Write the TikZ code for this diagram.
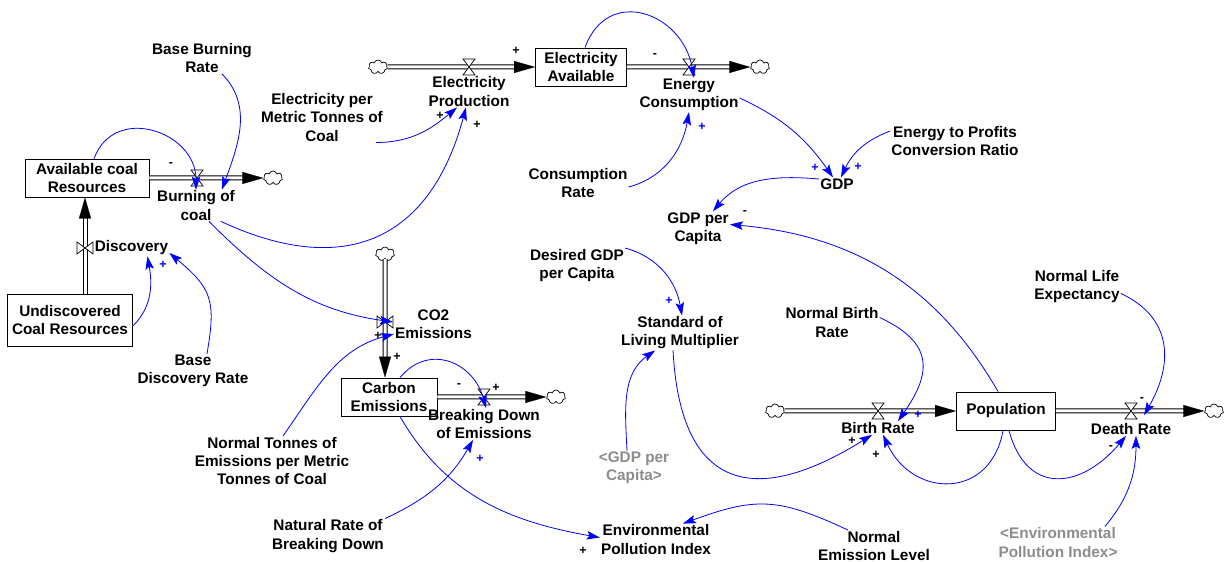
\documentclass[tikz,border=0pt]{standalone}
\usepackage{fontspec}
\setmainfont{Liberation Sans}
\usetikzlibrary{arrows.meta,shapes.symbols,calc}
\begin{document}
\begin{tikzpicture}[x=1bp,y=1bp,
  every node/.style={font=\bfseries\fontsize{15.4}{18.2}\selectfont, align=center, inner sep=1bp},
  stock/.style={draw=black, line width=0.9bp, fill=white, inner sep=0},
  lnk/.style={draw=blue, line width=0.8bp, -{Stealth[length=13bp,width=8.5bp,inset=2.5bp]}},
  pipe/.style={draw=black, double=white, double distance=3bp, line width=1bp, shorten >=12bp},
  ftip/.style={draw=white, line width=0.2bp, -{Triangle[length=21bp,width=12bp,black]}},
  hvalve/.style={minimum width=12bp, minimum height=16bp, inner sep=0, outer sep=0},
  vvalve/.style={minimum width=16bp, minimum height=12bp, inner sep=0, outer sep=0},
  valve/.style={draw=black, fill=white, line width=0.7bp},
  cloudn/.style={cloud, cloud puffs=7, aspect=1.35, draw=black, fill=white, line width=0.7bp, minimum width=19bp, minimum height=14bp, inner sep=0},
  pol/.style={font=\bfseries\fontsize{12.5}{12.5}\selectfont, inner sep=0},
  polb/.style={pol, text=blue},
  shadowv/.style={text=black!45}]
\useasboundingbox (0,0) rectangle (1227,-562);
\fill[white] (0,0) rectangle (1227,-562);

% stocks
\node[stock, minimum width=124bp, minimum height=38bp] (acr) at (87,-178) {Available coal\\Resources};
\node[stock, minimum width=125bp, minimum height=52bp] (ucr) at (70,-320) {Undiscovered\\Coal Resources};
\node[stock, minimum width=91bp, minimum height=38bp] (ea) at (581,-67) {Electricity\\Available};
\node[stock, minimum width=96bp, minimum height=38bp] (ce) at (389,-397) {Carbon\\Emissions};
\node[stock, minimum width=99bp, minimum height=38bp] (pop) at (1006,-411) {Population};

% clouds
\node[cloudn] (c1) at (378,-67) {};
\node[cloudn] (c2) at (760,-67) {};
\node[cloudn] (c3) at (273,-178) {};
\node[cloudn] (c4) at (385,-254) {};
\node[cloudn] (c5) at (556,-397) {};
\node[cloudn] (c6) at (775,-411) {};
\node[cloudn] (c7) at (1214,-411) {};

% valve placeholders
\node[hvalve] (vep) at (469,-67) {};
\node[hvalve] (vec) at (689,-67) {};
\node[hvalve] (vbc) at (197,-178) {};
\node[vvalve] (vdis) at (85,-248) {};
\node[vvalve] (vco2) at (385,-322) {};
\node[hvalve] (vbd) at (484,-397) {};
\node[hvalve] (vbr) at (878,-411) {};
\node[hvalve] (vdr) at (1131,-411) {};

% pipes
\draw[pipe] (c1) -- (ea);  \draw[ftip] (c1) -- (ea);
\draw[pipe] (ea) -- (c2);  \draw[ftip] (ea) -- (c2);
\draw[pipe] (acr) -- (c3); \draw[ftip] (acr) -- (c3);
\draw[pipe] (ucr.north -| vdis) -- (acr.south -| vdis); \draw[ftip] (ucr.north -| vdis) -- (acr.south -| vdis);
\draw[pipe] (c4) -- (ce.north -| vco2); \draw[ftip] (c4) -- (ce.north -| vco2);
\draw[pipe] (ce) -- (c5);  \draw[ftip] (ce) -- (c5);
\draw[pipe] (c6) -- (pop); \draw[ftip] (c6) -- (pop);
\draw[pipe] (pop) -- (c7); \draw[ftip] (pop) -- (c7);

% valves
\foreach \v in {vep,vec,vbc,vbd,vbr,vdr}
  \draw[valve] (\v.north west) -- (\v.north east) -- (\v.south west) -- (\v.south east) -- cycle;
\foreach \v in {vdis,vco2}
  \draw[valve] (\v.north west) -- (\v.south west) -- (\v.north east) -- (\v.south east) -- cycle;

% flow labels
\node (lep) at (469,-91.5) {Electricity\\Production};
\node (lec) at (689,-95) {Energy\\Consumption};
\node (lbc) at (196,-205.5) {Burning of\\coal};
\node (ldis) at (131.5,-248) {Discovery};
\node (lco2) at (433.5,-324) {CO2\\Emissions};
\node (lbd) at (484,-424) {Breaking Down\\of Emissions};
\node (lbr) at (878,-428) {Birth Rate};
\node (ldr) at (1131,-429) {Death Rate};

% auxiliaries
\node (bbr) at (202,-58) {Base Burning\\Rate};
\node (epm) at (322,-117.5) {Electricity per\\Metric Tonnes of\\Coal};
\node (cr) at (578,-183) {Consumption\\Rate};
\node (etp) at (955,-141) {Energy to Profits\\Conversion Ratio};
\node (gdp) at (837,-184) {GDP};
\node (gpc) at (698,-228.5) {GDP per\\Capita};
\node (dgpc) at (577,-265.5) {Desired GDP\\per Capita};
\node (slm) at (680,-333) {Standard of\\Living Multiplier};
\node (nbr) at (832,-322.5) {Normal Birth\\Rate};
\node (nle) at (1077,-286.5) {Normal Life\\Expectancy};
\node[shadowv] (ggpc) at (634,-468) {<GDP per\\Capita>};
\node (epi) at (656,-539.5) {Environmental\\Pollution Index};
\node (nel) at (874,-546) {Normal\\Emission Level};
\node[shadowv] (gepi) at (1058,-542.5) {<Environmental\\Pollution Index>};
\node (nte) at (272,-461) {Normal Tonnes of\\Emissions per Metric\\Tonnes of Coal};
\node (nrb) at (328,-536) {Natural Rate of\\Breaking Down};
\node (bdr) at (193,-371) {Base\\Discovery Rate};

% links
\draw[lnk] (acr.70) to[out=70,in=90,looseness=1.4] (lbc.north);
\draw[lnk] ([xshift=20]bbr.south) to[out=-45,in=70] ([xshift=26]lbc.north);
\draw[lnk] ([xshift=25]lbc.south) to[out=-25,in=-105,looseness=1.3] ([xshift=-3]lep.south);
\draw[lnk] ([xshift=-8]epm.south east) to[out=0,in=-140] ([xshift=-12]lep.south);
\draw[lnk] ([xshift=4]ea.north) to[out=70,in=100,looseness=1.5] ([xshift=5]lec.north);
\draw[lnk] ([yshift=-4]cr.east) to[out=15,in=-100] (lec.south);
\draw[lnk] ([yshift=-3]lec.east) to[out=-25,in=125] ([xshift=-4]gdp.north);
\draw[lnk] ([yshift=10]etp.west) to[out=200,in=65] ([xshift=4]gdp.north);
\draw[lnk] ([yshift=5]gdp.west) to[out=175,in=50] ([xshift=15]gpc.north);
\draw[lnk] ([xshift=-8]pop.north) to[out=120,in=-5] ([yshift=4]gpc.east);
\draw[lnk] (dgpc.north east) to[out=-15,in=100] ([xshift=2]slm.north);
\draw[lnk] ([xshift=-7]ggpc.north) to[out=93,in=-145] ([xshift=-25]slm.south);
\draw[lnk] ([xshift=-7]slm.south) to[out=-87,in=-148,looseness=1.65] ([xshift=-6]lbr.south);
\draw[lnk] ([xshift=-3]pop.south) to[out=-100,in=-65,looseness=1.5] ([xshift=5]lbr.south);
\draw[lnk] ([yshift=5]nbr.east) to[out=-25,in=55,looseness=1.45] ([xshift=20]lbr.north);
\draw[lnk] ([xshift=3]pop.south) to[out=-75,in=-130,looseness=1.5] ([xshift=-5]ldr.south);
\draw[lnk] ([xshift=47]gepi.north) to[out=50,in=-90] ([xshift=5]ldr.south);
\draw[lnk] ([yshift=-7]nle.east) to[out=-25,in=60,looseness=1.2] ([xshift=13,yshift=7]ldr.north);
\draw[lnk] ([xshift=11]ce.north) to[out=50,in=105,looseness=1.3] ([xshift=2]lbd.north);
\draw[lnk] (nrb.north east) to[out=25,in=-120] ([xshift=-11]lbd.south);
\draw[lnk] ([xshift=11]ce.south) to[out=-60,in=170] ([yshift=2]epi.west);
\draw[lnk] ([xshift=-26]nel.north) to[out=155,in=20,looseness=1.2] ([xshift=27]epi.north);
\draw[lnk] ([xshift=13]lbc.south) to[out=-45,in=172] (vco2.east);
\draw[lnk] ([xshift=11]nte.north) to[out=55,in=-165] ([yshift=-10]lco2.west);
\draw[lnk] ([yshift=-6]ucr.east) to[out=45,in=-80] ([xshift=16]ldis.south);
\draw[lnk] ([xshift=14]bdr.north) to[out=80,in=-40,looseness=1.3] ([yshift=-5]ldis.east);

% polarities
\node[pol] (p1) at (171,-165) {-};
\node[pol] (p2) at (440,-116) {+};
\node[pol] (p3) at (477,-125) {+};
\node[pol] (p4) at (516,-51) {+};
\node[pol] (p5) at (655,-56) {-};
\node[pol] (p6) at (745,-213) {-};
\node[pol] (p7) at (378,-336) {+};
\node[pol] (p8) at (397,-357) {+};
\node[pol] (p9) at (459,-386) {-};
\node[pol] (p10) at (496,-388) {+};
\node[pol] (p11) at (583,-551) {+};
\node[pol] (p12) at (852,-441) {+};
\node[pol] (p13) at (876,-455) {+};
\node[pol] (p14) at (1111,-448) {-};
\node[pol] (p15) at (1142,-400) {-};
\node[polb] (p16) at (702,-127) {+};
\node[polb] (p17) at (815,-168) {+};
\node[polb] (p18) at (858,-167) {+};
\node[polb] (p19) at (669,-301) {+};
\node[polb] (p20) at (163,-265) {+};
\node[polb] (p21) at (480,-459) {+};
\node[polb] (p22) at (918,-415) {+};
\end{tikzpicture}
\end{document}
